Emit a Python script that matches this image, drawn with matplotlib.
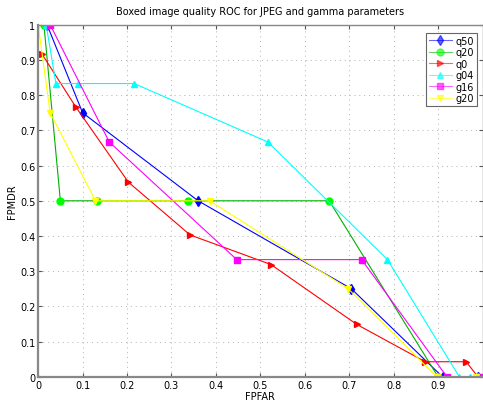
import numpy as np
import matplotlib
matplotlib.use('Agg')
import matplotlib.pyplot as plt

# data
q50_x = [0.02, 0.10, 0.36, 0.705, 0.91, 0.99]
q50_y = [1.0, 0.75, 0.50, 0.25, 0.0, 0.0]

q20_x = [0.013, 0.05, 0.133, 0.337, 0.655, 0.90, 0.99]
q20_y = [1.0, 0.50, 0.50, 0.50, 0.50, 0.0, 0.0]

q0_x = [0.009, 0.085, 0.203, 0.342, 0.524, 0.717, 0.871, 0.963, 0.99]
q0_y = [0.916, 0.766, 0.553, 0.403, 0.319, 0.149, 0.043, 0.043, 0.0]

g04_x = [0.018, 0.04, 0.089, 0.216, 0.517, 0.786, 0.948, 0.972, 0.995]
g04_y = [1.0, 0.833, 0.833, 0.833, 0.667, 0.333, 0.0, 0.0, 0.0]

g16_x = [0.027, 0.16, 0.447, 0.728, 0.92, 0.997]
g16_y = [1.0, 0.667, 0.333, 0.333, 0.0, 0.0]

g20_x = [0.0, 0.027, 0.129, 0.386, 0.698, 0.897, 0.986]
g20_y = [1.0, 0.75, 0.50, 0.50, 0.25, 0.0, 0.0]

series = [
    ('q50', q50_x, q50_y, 'b', 'd'),
    ('q20', q20_x, q20_y, 'g', 'o'),
    ('q0', q0_x, q0_y, 'r', '>'),
    ('g04', g04_x, g04_y, 'c', '^'),
    ('g16', g16_x, g16_y, 'm', 's'),
    ('g20', g20_x, g20_y, 'y', 'v'),
]

colors = {'b': '#0000ff', 'g': '#00b000', 'r': '#ff0000',
          'c': '#00ffff', 'm': '#ff00ff', 'y': '#ffff00'}
mcolors = {'b': '#0000ff', 'g': '#00ff00', 'r': '#ff0000',
           'c': '#00ffff', 'm': '#ff00ff', 'y': '#ffff00'}

fig = plt.figure(figsize=(4.83, 4.02), dpi=100)
ax = fig.add_axes([0.079, 0.06, 0.92, 0.876])

for name, x, y, c, m in series:
    ax.plot(x, y, color=colors[c], lw=0.8, marker=m, markersize=5,
            markerfacecolor=mcolors[c], markeredgecolor=mcolors[c],
            label=name)

ax.set_xlim(0, 1)
ax.set_ylim(0, 1)
ax.set_xticks(np.arange(0, 1.0, 0.1))
ax.set_xticklabels(['0', '0.1', '0.2', '0.3', '0.4', '0.5', '0.6', '0.7', '0.8', '0.9'])
ax.set_yticks(np.arange(0, 1.01, 0.1))
ax.set_yticklabels(['0', '0.1', '0.2', '0.3', '0.4', '0.5', '0.6', '0.7', '0.8', '0.9', '1'])
ax.tick_params(direction='in', length=3, labelsize=7, top=True, right=True,
               color='#555555', pad=2)
ax.grid(True, linestyle=(0, (1, 4)), color='#b0b0b0', lw=0.7)
for s in ax.spines.values():
    s.set_color('#888888')
    s.set_linewidth(1.0)
ax.spines['left'].set_linewidth(1.6)
ax.spines['bottom'].set_linewidth(1.6)

ax.set_title('Boxed image quality ROC for JPEG and gamma parameters', fontsize=7, pad=8)
ax.set_xlabel('FPFAR', fontsize=7, labelpad=1)
ax.set_ylabel('FPMDR', fontsize=7, labelpad=2)

leg = ax.legend(loc='upper right', fontsize=7, fancybox=False, framealpha=1,
                edgecolor='#666666', handlelength=2.4, borderaxespad=0.3,
                labelspacing=0.15, borderpad=0.3, handletextpad=0.4,
                bbox_to_anchor=(0.995, 0.985))
leg.get_frame().set_linewidth(0.8)
for h in leg.get_lines():
    h.set_alpha(0.6)

fig.savefig('out.png', dpi=100)
